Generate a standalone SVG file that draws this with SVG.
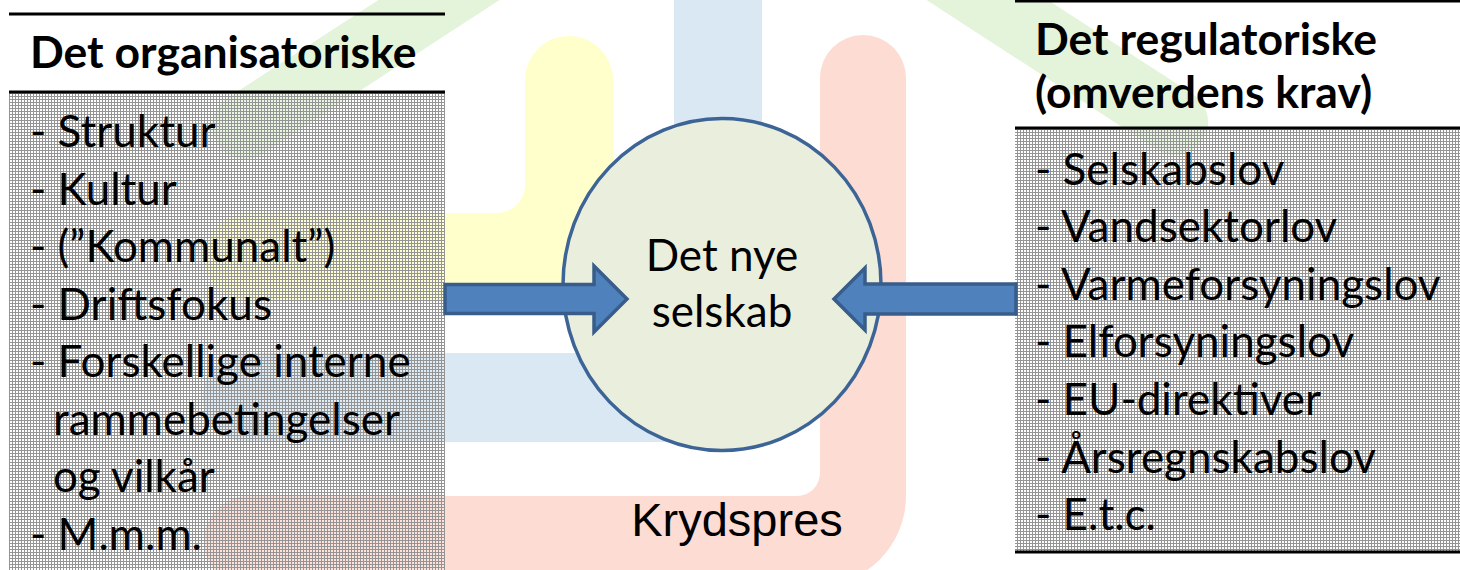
<svg xmlns="http://www.w3.org/2000/svg" width="1460" height="570" viewBox="0 0 1460 570">
<defs>
<pattern id="grid" width="3" height="3" patternUnits="userSpaceOnUse">
<rect x="0" y="0" width="3" height="1" fill="#949494"/>
<rect x="0" y="1" width="1" height="2" fill="#949494"/>
<rect x="1" y="1" width="2" height="2" fill="#ffffff" fill-opacity="0.2"/>
</pattern>
<style>
.txt{font-family:Lato,"Liberation Sans",sans-serif;fill:#000}
.item{font-size:44px}
.title{font-size:44.5px;font-weight:bold}
.rule{stroke:#000;stroke-width:3}
.arrow{fill:#4F81BD;stroke:#385D8A;stroke-width:3.5;stroke-linejoin:miter}
</style>
</defs>
<rect x="0" y="0" width="1460" height="570" fill="#fff"/>
<g id="background">
<polyline points="245,126 713,-178 1175,122" fill="none" stroke="#E3F4DA" stroke-width="66" stroke-linecap="round" stroke-linejoin="round"/>
<path d="M525,80 A44,44 0 0 1 613,80 V302 H249 A44.5,44.5 0 0 1 249,213 H497 A28,28 0 0 0 525,185 Z" fill="#FFFFCC"/>
<path d="M674,-10 H762 V442 H247 A44.5,44.5 0 0 1 247,353 H674 Z" fill="#DAE8F4"/>
<path d="M820,78 A43,43 0 0 1 906,78 V496 A90,90 0 0 1 816,586 H249 A45,45 0 0 1 249,496 H797 A23,23 0 0 0 820,473 Z" fill="#FDDCD3"/>
</g>
<g id="left-box">
<rect x="9" y="93" width="436" height="477" fill="url(#grid)"/>
<line class="rule" x1="9" y1="14" x2="445" y2="14"/>
<line class="rule" x1="9" y1="92" x2="445" y2="92"/>
<text class="txt title" x="30" y="68">Det organisatoriske</text>
<text class="txt item" x="30" y="147">- Struktur</text>
<text class="txt item" x="30" y="204.5">- Kultur</text>
<text class="txt item" x="30" y="262">- (”Kommunalt”)</text>
<text class="txt item" x="30" y="319.5">- Driftsfokus</text>
<text class="txt item" x="30" y="377">- Forskellige interne</text>
<text class="txt item" x="53" y="434.5">rammebetingelser</text>
<text class="txt item" x="53" y="492">og vilkår</text>
<text class="txt item" x="30" y="549.5">- M.m.m.</text>
</g>
<g id="right-box">
<rect x="1015" y="129" width="445" height="422" fill="url(#grid)"/>
<line class="rule" x1="1015" y1="1" x2="1460" y2="1"/>
<line class="rule" x1="1015" y1="128" x2="1460" y2="128"/>
<line class="rule" x1="1015" y1="552" x2="1460" y2="552"/>
<text class="txt title" x="1035" y="55">Det regulatoriske</text>
<text class="txt title" x="1035" y="108">(omverdens krav)</text>
<text class="txt item" x="1035" y="184.6">- Selskabslov</text>
<text class="txt item" x="1035" y="242.2">- Vandsektorlov</text>
<text class="txt item" x="1035" y="299.8">- Varmeforsyningslov</text>
<text class="txt item" x="1035" y="357.4">- Elforsyningslov</text>
<text class="txt item" x="1035" y="415">- EU-direktiver</text>
<text class="txt item" x="1035" y="472.6">- Årsregnskabslov</text>
<text class="txt item" x="1035" y="530.2">- E.t.c.</text>
</g>
<g id="center">
<ellipse cx="722" cy="284.5" rx="159" ry="166" fill="#EAEFDD" stroke="#3D6497" stroke-width="3.5"/>
<text class="txt item" x="722" y="271" text-anchor="middle">Det nye</text>
<text class="txt item" x="722" y="327" text-anchor="middle">selskab</text>
</g>
<g id="krydspres">
<text x="737" y="536" text-anchor="middle" font-family="'Liberation Sans',Arial,sans-serif" font-size="47" fill="#000">Krydspres</text>
</g>
<g id="connectors">
<path class="arrow" d="M445,284.5 H594 V266 L627,299 L594,332 V313.5 H445 Z"/>
<path class="arrow" d="M1016,284 H865 V268 L834,299 L865,330 V314 H1016 Z"/>
</g>
</svg>
